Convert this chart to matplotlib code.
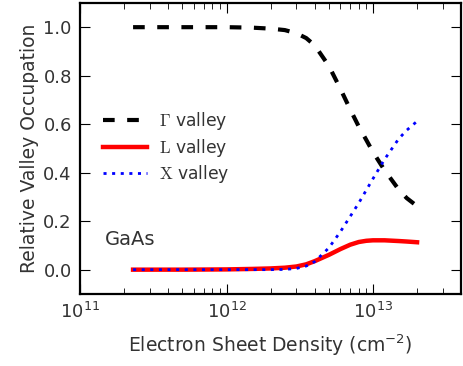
import numpy as np
import matplotlib
matplotlib.use('Agg')
import matplotlib.pyplot as plt
from matplotlib.font_manager import FontProperties

# sheet density (cm^-2) and relative occupation
density = [2.3e11, 5e11, 1e12, 1.5e12, 2e12, 2.5e12, 3e12, 3.5e12, 4e12, 5e12,
           6e12, 7e12, 8e12, 9e12, 1e13, 1.2e13, 1.5e13, 1.7e13, 2e13]
gamma = [1.0, 1.0, 1.0, 0.998, 0.994, 0.988, 0.975, 0.955, 0.925, 0.84,
         0.745, 0.66, 0.59, 0.535, 0.485, 0.41, 0.33, 0.295, 0.262]
l_valley = [0.0, 0.0, 0.001, 0.003, 0.005, 0.008, 0.013, 0.022, 0.035, 0.061,
            0.085, 0.103, 0.114, 0.119, 0.121, 0.121, 0.118, 0.116, 0.113]
x_valley = [0.0, 0.0, 0.0, 0.0, 0.0, 0.001, 0.005, 0.015, 0.033, 0.09,
            0.157, 0.22, 0.275, 0.328, 0.375, 0.455, 0.54, 0.575, 0.612]

text_col = '#333333'
plt.rcParams['font.family'] = 'DejaVu Sans'
plt.rcParams['mathtext.fontset'] = 'dejavusans'

fig = plt.figure(figsize=(4.63, 3.66), dpi=100)
ax = fig.add_axes([0.173, 0.197, 0.823, 0.795])

ax.plot(density, gamma, color='k', ls='--', lw=3.0, dashes=(2.8, 3.0),
        label=r'$\Gamma$ valley')
ax.plot(density, l_valley, 'r-', lw=3.2, label=r'$\mathrm{L}$ valley')
ax.plot(density, x_valley, color='b', ls=':', lw=2.0, dashes=(1.1, 2.0),
        label=r'$\mathrm{X}$ valley')

ax.set_xscale('log')
ax.set_xlim(1e11, 4e13)
ax.set_ylim(-0.1, 1.1)
ax.set_yticks([0.0, 0.2, 0.4, 0.6, 0.8, 1.0])

for s in ax.spines.values():
    s.set_linewidth(1.6)
ax.tick_params(which='both', direction='in', top=True, right=True,
               labelsize=13, labelcolor=text_col, pad=6)
ax.tick_params(which='major', length=7, width=0.8)
ax.tick_params(which='minor', length=4, width=0.6)

ax.set_xlabel(r'Electron Sheet Density (cm$^{-2}$)', fontsize=13.5, color=text_col, labelpad=7)
ax.set_ylabel('Relative Valley Occupation', fontsize=13.5, color=text_col, labelpad=3)

ax.text(0.066, 0.186, 'GaAs', transform=ax.transAxes, fontsize=14,
        color=text_col, va='center')

prop = FontProperties(family='DejaVu Sans', size=12.3, math_fontfamily='cm')
leg = ax.legend(loc='upper left', bbox_to_anchor=(0.02, 0.684), frameon=False,
                prop=prop, handlelength=2.55, handletextpad=0.75, labelspacing=0.27)
for t in leg.get_texts():
    t.set_color(text_col)

fig.savefig('out.png', dpi=100)
